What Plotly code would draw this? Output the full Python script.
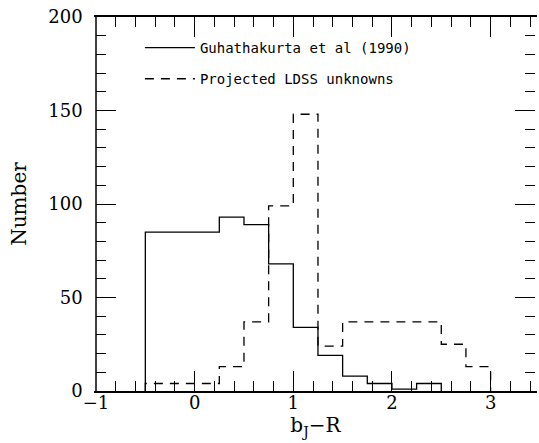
import plotly.graph_objects as go

# Bin edges (width 0.25) and counts
solid_left_edges = [-0.5, -0.25, 0.0, 0.25, 0.5, 0.75, 1.0, 1.25, 1.5, 1.75, 2.0, 2.25]
solid_right_end = 2.5
solid_counts = [85, 85, 85, 93, 89, 68, 34, 19, 8, 4, 1, 4]

dashed_left_edges = [-0.5, -0.25, 0.0, 0.25, 0.5, 0.75, 1.0, 1.25, 1.5, 1.75, 2.0, 2.25, 2.5, 2.75]
dashed_right_end = 3.0
dashed_counts = [4, 4, 4, 13, 37, 99, 148, 24, 37, 37, 37, 37, 25, 13]

solid_name = "Guhathakurta et al (1990)"
dashed_name = "Projected LDSS unknowns"


def step_xy(left_edges, right_end, counts):
    x = [left_edges[0]] + list(left_edges) + [right_end]
    y = [0] + list(counts) + [0]
    return x, y


sx, sy = step_xy(solid_left_edges, solid_right_end, solid_counts)
dx, dy = step_xy(dashed_left_edges, dashed_right_end, dashed_counts)

fig = go.Figure()
fig.add_trace(go.Scatter(x=sx, y=sy, mode="lines", line_shape="hv",
                         line=dict(color="black", width=1.3),
                         name=solid_name, legendgroup="a"))
fig.add_trace(go.Scatter(x=dx, y=dy, mode="lines", line_shape="hv",
                         line=dict(color="black", width=1.3, dash="9px,7px"),
                         name=dashed_name, legendgroup="b"))

serif = "DejaVu Serif"
tickfont = dict(family=serif, size=18, color="black")

fig.update_layout(
    width=539, height=443,
    margin=dict(l=96, r=2, t=17, b=52),
    plot_bgcolor="white", paper_bgcolor="white",
    showlegend=True,
    xaxis=dict(
        range=[-1, 3.45], tick0=0, dtick=1,
        showgrid=False, zeroline=False, showline=True, linecolor="black", linewidth=1.5,
        ticks="inside", tickcolor="black", tickwidth=1.3, ticklen=20, mirror="allticks",
        minor=dict(tick0=0, dtick=0.2, ticks="inside", ticklen=10,
                   tickwidth=1.3, tickcolor="black"),
        tickfont=tickfont, ticklabelstandoff=-5,
        title=dict(text="b<sub>J</sub>\u2212R", font=dict(family=serif, size=20, color="black"),
                   standoff=2),
    ),
    yaxis=dict(
        range=[0, 200], tick0=0, dtick=50,
        showgrid=False, zeroline=False, showline=True, linecolor="rgba(0,0,0,0)", linewidth=1.5,
        ticks="inside", tickcolor="black", tickwidth=1.3, ticklen=20, mirror="allticks",
        minor=dict(tick0=0, dtick=10, ticks="inside", ticklen=10,
                   tickwidth=1.3, tickcolor="black"),
        tickfont=tickfont, ticklabelstandoff=8,
        title=dict(text="Number", font=dict(family=serif, size=20, color="black"),
                   standoff=16),
    ),
    # left frame line (the right frame lies just outside the cropped reference image)
    shapes=[dict(type="line", xref="paper", yref="paper", x0=0, x1=0, y0=0, y1=1,
                 line=dict(color="black", width=1.5), layer="above")],
    legend=dict(x=0.10, y=0.96, xanchor="left", yanchor="top",
                bgcolor="rgba(0,0,0,0)", borderwidth=0,
                traceorder="grouped", tracegroupgap=10, itemwidth=50,
                font=dict(family="DejaVu Sans Mono", size=14, color="black")),
)

fig.write_html("out.html")
